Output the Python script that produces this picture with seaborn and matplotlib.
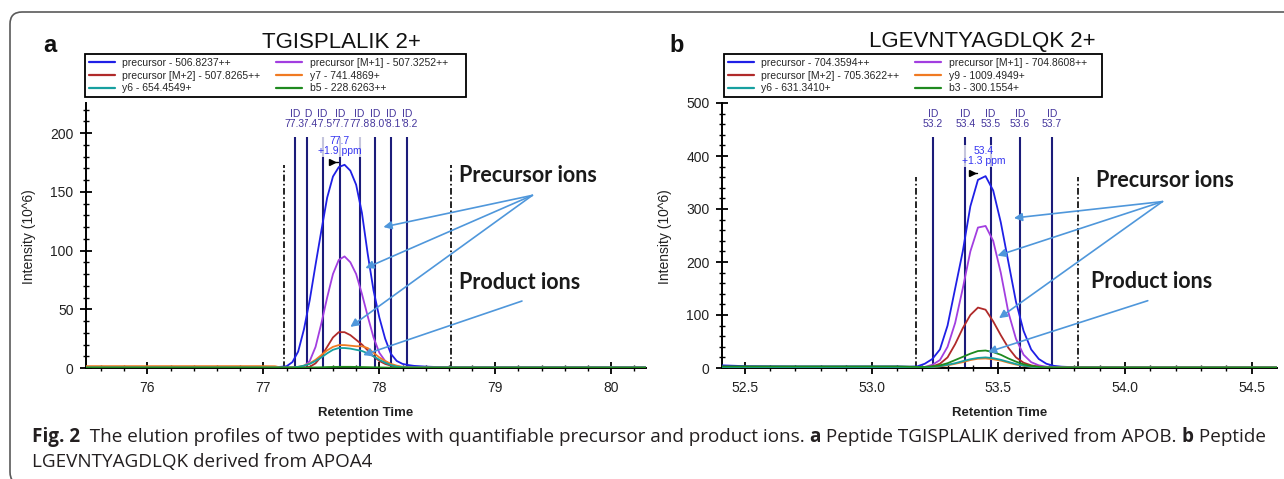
import numpy as np
import pandas as pd
import matplotlib
matplotlib.use("Agg")
import matplotlib.pyplot as plt
import seaborn as sns
from matplotlib.lines import Line2D
from matplotlib.patches import FancyBboxPatch, Rectangle
from matplotlib import font_manager

# ---------------- data: panel a (TGISPLALIK 2+) ----------------
rt_a = [75.47, 76.0, 76.5, 77.0, 77.1, 77.15, 77.2, 77.25, 77.3, 77.35, 77.4, 77.45,
        77.5, 77.55, 77.6, 77.65, 77.7, 77.75, 77.8, 77.85, 77.9, 77.95, 78.0, 78.05,
        78.1, 78.15, 78.2, 78.25, 78.3, 78.4, 78.5, 78.6, 79.0, 79.5, 80.0, 80.3]
prec_a = [0.8, 0.8, 0.8, 0.8, 0.8, 1.0, 1.5, 5, 14, 33, 58, 88,
          117, 145, 163, 171, 173, 168, 156, 132, 97, 66, 43, 25,
          12, 6, 3.5, 2.5, 1.8, 1.2, 0.8, 0.6, 0.6, 0.6, 0.6, 0.6]
m1_a = [0.3, 0.3, 0.3, 0.3, 0.3, 0.3, 0.3, 0.3, 0.3, 1.5, 6, 18,
        38, 60, 80, 92, 95, 90, 80, 63, 44, 26, 13, 6,
        2.5, 1.2, 0.8, 0.5, 0.5, 0.5, 0.5, 0.5, 0.5, 0.5, 0.5, 0.5]
m2_a = [0.3, 0.3, 0.3, 0.3, 0.3, 0.3, 0.3, 0.3, 0.3, 0.3, 1, 4,
        10, 18, 26, 30.5, 30.5, 28, 24, 20, 15, 10, 6, 3.5,
        2, 1, 0.5, 0.3, 0.3, 0.3, 0.3, 0.3, 0.3, 0.3, 0.3, 0.3]
y7_a = [1.6, 1.6, 1.6, 1.6, 1.5, 0.4, 0.4, 0.6, 1, 2, 4, 7,
        11, 15, 18, 19.5, 19.5, 19, 18.5, 18.5, 17, 13, 9, 6,
        3.5, 2, 1, 0.6, 0.4, 0.4, 0.4, 0.4, 0.4, 0.4, 0.4, 0.4]
y6_a = [0.5, 0.5, 0.5, 0.5, 0.5, 0.5, 0.5, 0.5, 1, 2, 3.5, 6,
        9, 12.5, 15.5, 17, 17, 16.5, 15.5, 14.5, 12.5, 10, 7, 4.5,
        2.5, 1.2, 0.7, 0.5, 0.5, 0.5, 0.5, 0.5, 0.5, 0.5, 0.5, 0.5]
b5_a = [0.3, 0.3, 0.3, 0.3, 0.3, 0.3, 0.3, 0.3, 0.3, 0.3, 0.4, 0.5,
        0.6, 0.8, 0.9, 1.0, 1.0, 1.0, 0.9, 0.8, 0.7, 0.6, 0.5, 0.4,
        0.3, 0.3, 0.3, 0.3, 0.3, 0.3, 0.3, 0.3, 0.3, 0.3, 0.3, 0.3]
labels_a = ["precursor - 506.8237++", "precursor [M+1] - 507.3252++",
            "precursor [M+2] - 507.8265++", "y7 - 741.4869+",
            "y6 - 654.4549+", "b5 - 228.6263++"]
id_rt_a = [77.27, 77.38, 77.51, 77.66, 77.83, 77.96, 78.10, 78.24]
id_txt_a = ["77.3", "77.4", "77.5", "77.7", "77.8", "78.0", "78.1", "78.2"]
bounds_a = [77.18, 78.62]

# ---------------- data: panel b (LGEVNTYAGDLQK 2+) ----------------
rt_b = [52.41, 52.5, 52.7, 52.9, 53.1, 53.15, 53.18, 53.21, 53.24, 53.27, 53.3,
        53.33, 53.36, 53.39, 53.42, 53.45, 53.48, 53.51, 53.54, 53.57, 53.6,
        53.63, 53.66, 53.69, 53.72, 53.75, 53.8, 53.9, 54.1, 54.3, 54.6]
prec_b = [5, 3.5, 3, 3, 3, 2.5, 3, 8, 17, 35, 80,
          150, 220, 305, 355, 362, 335, 275, 200, 125, 70,
          35, 17, 8, 4, 2.5, 1.5, 1.2, 1, 1, 1]
m1_b = [1.5, 1.5, 1.5, 1.5, 1.5, 1.5, 1.5, 2, 6, 15, 40,
        85, 150, 220, 265, 268, 240, 180, 105, 55, 25,
        11, 5, 2.5, 1.5, 1, 1, 1, 1, 1, 1]
m2_b = [1.5, 1.5, 1.5, 1.5, 1.5, 1.5, 1.5, 1.5, 3, 8, 20,
        45, 75, 100, 114, 110, 88, 62, 38, 20, 10,
        5, 2.5, 1.5, 1, 1, 1, 1, 1, 1, 1]
y9_b = [1, 1, 1, 1, 1, 1, 1, 1, 2, 3, 5,
        8, 11, 15, 17.5, 18, 16.5, 14, 10, 6.5, 4,
        2.5, 1.5, 1, 1, 1, 1, 1, 1, 1, 1]
y6_b = [1.2, 1.2, 1.2, 1.2, 1.2, 1.2, 1.2, 1.2, 2, 3.5, 6,
        9, 13, 16.5, 19, 20, 18.5, 15.5, 11.5, 7.5, 4.5,
        2.5, 1.5, 1, 1, 1, 1, 1, 1, 1, 1]
b3_b = [3, 3, 3, 3, 3, 2.5, 2, 2, 3, 5, 9,
        15, 21, 27, 32, 33, 30, 25, 18, 12, 7,
        4, 2, 1, 0.8, 0.8, 0.8, 0.8, 0.8, 0.8, 0.8]
labels_b = ["precursor - 704.3594++", "precursor [M+1] - 704.8608++",
            "precursor [M+2] - 705.3622++", "y9 - 1009.4949+",
            "y6 - 631.3410+", "b3 - 300.1554+"]
id_rt_b = [53.243, 53.37, 53.47, 53.585, 53.712]
id_txt_b = ["53.2", "53.4", "53.5", "53.6", "53.7"]
bounds_b = [53.174, 53.814]

colors = ["#1f1fe6", "#a23ee0", "#b02a2a", "#f07a22", "#17a0a0", "#1f8a1f"]

sns.set_style("ticks")
avail = {f.name for f in font_manager.fontManager.ttflist}
arial = "Liberation Sans"
narrow = "Liberation Sans Narrow" if "Liberation Sans Narrow" in avail else arial
plt.rcParams["font.family"] = [arial, "DejaVu Sans"]

W, H = 1284, 479
fig = plt.figure(figsize=(W / 100, H / 100), dpi=100)


def px_box(left, top, right, bottom):
    return [left / W, 1 - bottom / H, (right - left) / W, (bottom - top) / H]


def long_df(rt, series, labels):
    frames = [pd.DataFrame({"rt": rt, "intensity": s, "ion": lab})
              for s, lab in zip(series, labels)]
    return pd.concat(frames, ignore_index=True)


def draw_panel(rect, rt, series, labels, xlim, ylim, xticks, xfmt, ymajor, yminor,
               xminor, id_rt, id_txt, id_top, id_label_y, bounds, bound_top,
               apex, marker, arrows, texts):
    ax = fig.add_axes(rect)
    df = long_df(rt, series, labels)
    sns.lineplot(data=df, x="rt", y="intensity", hue="ion", hue_order=labels,
                 palette=colors, ax=ax, legend=False, estimator=None, sort=False,
                 linewidth=1.3, zorder=3)
    ax.set_xlim(*xlim)
    ax.set_ylim(*ylim)
    ax.set_xticks(xticks)
    ax.set_xticklabels([xfmt.format(v) for v in xticks])
    ax.set_xticks(xminor, minor=True)
    ax.set_yticks(ymajor)
    ax.set_yticks(yminor, minor=True)
    sns.despine(ax=ax)
    for s in ["left", "bottom"]:
        ax.spines[s].set_linewidth(1.4)
        ax.spines[s].set_color("black")
    ax.tick_params(which="major", direction="inout", length=8, width=1.3,
                   labelsize=10, colors="black", labelcolor="#222222", pad=5)
    ax.tick_params(which="minor", direction="inout", length=5, width=1.0,
                   colors="black")
    ax.set_xlabel("Retention Time", fontsize=9.5, fontweight="bold", color="#222222")
    ax.set_ylabel("Intensity (10^6)", fontsize=10, color="#222222")
    ax.xaxis.set_label_coords(0.5, -0.147)
    ax.yaxis.set_label_coords(-0.09, 0.494)

    # identification lines and their labels
    ax.vlines(id_rt, 0, id_top, color="#1c1c7a", linewidth=1.5, zorder=2)
    for i, (x, t) in enumerate(zip(id_rt, id_txt)):
        ax.text(x, id_label_y, "ID\n" + t, ha="center", va="center", fontsize=7.5,
                color="#44359c", linespacing=1.05, zorder=20 - i * 0.1,
                bbox=dict(boxstyle="square,pad=0.05", fc="white", ec="none"))
    # integration boundaries
    ax.vlines(bounds, 0, bound_top, color="black", linewidth=1.2,
              linestyles=[(0, (4, 1.5, 1, 1.5))], zorder=2)
    # apex annotation
    ax.text(apex[0], apex[1], apex[2], ha="center", va="center", fontsize=7.5,
            color="#3434f0", linespacing=1.1, zorder=25,
            bbox=dict(boxstyle="square,pad=0.1", fc="white", ec="none", alpha=0.75))
    ax.plot([marker[0]], [marker[1]], marker=">", color="black", markersize=5,
            zorder=26)
    ax.plot([marker[0], marker[0] + marker[2]], [marker[1], marker[1]],
            color="black", linewidth=1.0, zorder=26)
    # callout arrows
    for (x0, y0), (x1, y1) in arrows:
        ax.annotate("", xy=(x1, y1), xytext=(x0, y0),
                    arrowprops=dict(arrowstyle="-|>", color="#4f97db", lw=1.2,
                                    mutation_scale=12, shrinkA=0, shrinkB=0),
                    zorder=30)
    for x, y, t in texts:
        ax.text(x, y, t, ha="left", va="center", fontsize=15.5, fontweight="bold",
                family=["Lato", arial], color="#1a1a1a", zorder=30)
    return ax


ax_a = draw_panel(
    px_box(86, 103, 646, 368), rt_a, [prec_a, m1_a, m2_a, y7_a, y6_a, b5_a], labels_a,
    (75.47, 80.3), (0, 225.6), [76, 77, 78, 79, 80], "{:.0f}",
    [0, 50, 100, 150, 200], list(range(0, 225, 10)),
    [75.6, 75.8, 76.2, 76.4, 76.6, 76.8, 77.2, 77.4, 77.6, 77.8, 78.2, 78.4, 78.6,
     78.8, 79.2, 79.4, 79.6, 79.8, 80.2],
    id_rt_a, id_txt_a, 197, 212, bounds_a, 173,
    (77.66, 189, "77.7\n+1.9 ppm"), (77.59, 175, 0.05),
    [((79.32, 147), (78.035, 120)), ((79.32, 147), (77.88, 85)),
     ((79.32, 147), (77.75, 35)), ((79.23, 57), (77.86, 11))],
    [(78.69, 164, "Precursor ions"), (78.69, 73, "Product ions")])

ax_b = draw_panel(
    px_box(722, 103, 1277, 368), rt_b, [prec_b, m1_b, m2_b, y9_b, y6_b, b3_b], labels_b,
    (52.41, 54.6), (0, 500), [52.5, 53.0, 53.5, 54.0, 54.5], "{:.1f}",
    [0, 100, 200, 300, 400, 500], list(range(0, 501, 20)),
    [52.6, 52.7, 52.8, 52.9, 53.1, 53.2, 53.3, 53.4, 53.6, 53.7, 53.8, 53.9,
     54.1, 54.2, 54.3, 54.4],
    id_rt_b, id_txt_b, 436, 470, bounds_b, 360,
    (53.442, 400, "53.4\n+1.3 ppm"), (53.398, 368, 0.02),
    [((54.148, 314), (53.562, 283)), ((54.148, 314), (53.497, 212)),
     ((54.148, 314), (53.503, 94)), ((54.09, 127), (53.459, 30))],
    [(53.884, 353, "Precursor ions"), (53.865, 164, "Product ions")])

# legends: row-major order like the reference, boxed by a plain rectangle
order = [0, 2, 4, 1, 3, 5]
for ax, labels, (left, right) in [(ax_a, labels_a, (85, 466)), (ax_b, labels_b, (724, 1102))]:
    handles = [Line2D([], [], color=colors[i], lw=1.6) for i in order]
    leg = ax.legend(handles, [labels[i] for i in order], ncol=2, loc="upper left",
                    bbox_to_anchor=((left + 1) / W, 1 - 55 / H),
                    bbox_transform=fig.transFigure, frameon=False, borderaxespad=0,
                    prop={"family": narrow, "size": 7.5}, handlelength=2.5,
                    handletextpad=0.7, labelspacing=0.25, borderpad=0.3,
                    columnspacing=1.5)
    leg.set_zorder(40)
    fig.add_artist(Rectangle((left / W, 1 - 97 / H), (right - left) / W, 43 / H,
                             transform=fig.transFigure, fill=False,
                             edgecolor="black", linewidth=1.3))

# titles and panel letters
fig.text(341 / W, 1 - 42 / H, "TGISPLALIK 2+", ha="center", va="center",
         fontsize=16, color="#111111")
fig.text(982 / W, 1 - 42 / H, "LGEVNTYAGDLQK 2+", ha="center", va="center",
         fontsize=16, color="#111111")
fig.text(50 / W, 1 - 45 / H, "a", ha="center", va="center", fontsize=17,
         fontweight="bold", color="#111111")
fig.text(677 / W, 1 - 45 / H, "b", ha="center", va="center", fontsize=17,
         fontweight="bold", color="#111111")

# rounded frame around the figure (open on the right)
frame = FancyBboxPatch((0.10, -0.05), 13.2, 4.72, boxstyle="round,pad=0,rounding_size=0.12",
                       transform=fig.dpi_scale_trans, fill=False, edgecolor="#5a5a5a",
                       linewidth=1.2)
fig.add_artist(frame)

# caption with bold runs
renderer = fig.canvas.get_renderer()
cap_font = ["Open Sans", "DejaVu Sans"]


def draw_runs(runs, x_px, y_px, size):
    x = x_px
    for txt, bold in runs:
        t = fig.text(x / W, 1 - y_px / H, txt, fontsize=size, family=cap_font,
                     fontweight="bold" if bold else "normal", ha="left",
                     va="center", color="#231f20")
        x += t.get_window_extent(renderer).width


line1 = [("Fig. 2", True),
         ("  The elution profiles of two peptides with quantifiable precursor and product ions. ", False),
         ("a", True), (" Peptide TGISPLALIK derived from APOB. ", False),
         ("b", True), (" Peptide", False)]
draw_runs(line1, 32, 437, 13.6)
draw_runs([("LGEVNTYAGDLQK derived from APOA4", False)], 32, 462, 13.6)

fig.savefig("out.png", dpi=100)
